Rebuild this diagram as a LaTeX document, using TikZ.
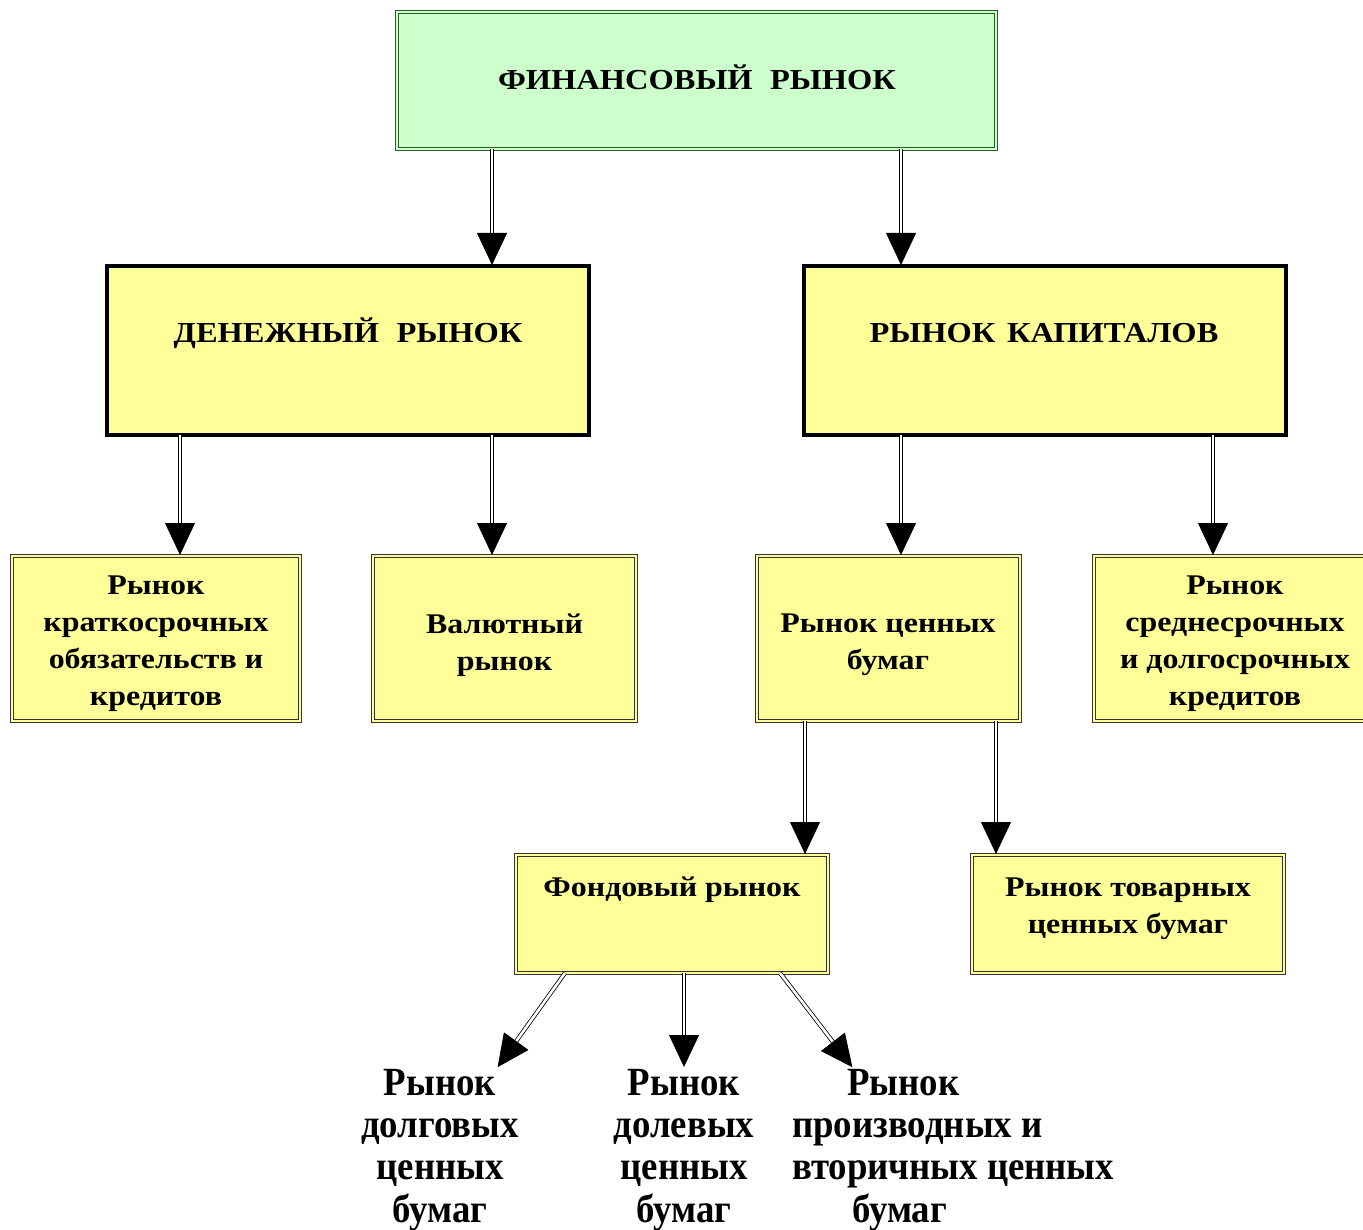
\documentclass[tikz,border=0pt]{standalone}
\usepackage{fontspec}
\setmainfont{Liberation Serif}
\newfontfamily\boxfont[FakeStretch=1.12]{Liberation Serif}
\newfontfamily\botfont[FakeStretch=0.92]{Liberation Serif}
\usetikzlibrary{arrows.meta}
\definecolor{yel}{HTML}{FFFF99}
\definecolor{grn}{HTML}{CCFFCC}
\definecolor{edge}{HTML}{333333}
\tikzset{
  x=1pt,y=-1pt,
  dbox/.style={rectangle, draw=edge, line width=0.9pt, double=yel, double distance=1.8pt, fill=yel, inner sep=0pt, outer sep=0pt},
  gbox/.style={rectangle, draw=edge!80!green, line width=0.9pt, double=grn, double distance=1.8pt, fill=grn, inner sep=0pt, outer sep=0pt},
  tbox/.style={rectangle, draw=black, line width=4pt, fill=yel, inner sep=0pt, outer sep=0pt},
  hdr/.style={font=\boxfont\bfseries\fontsize{29}{34}\selectfont, inner sep=0pt},
  txt/.style={font=\boxfont\bfseries\fontsize{28.5}{37}\selectfont, align=center, inner sep=0pt},
  bot/.style={font=\botfont\bfseries\fontsize{40}{42.3}\selectfont, align=center, inner sep=0pt},
  arr/.style={draw=black, line width=0.8pt, double=white, double distance=2.6pt,
    -{Triangle[length=32pt,width=30pt]}, shorten >=1pt},
}
\begin{document}
\begin{tikzpicture}
\useasboundingbox[fill=white] (0,0) rectangle (1363,1230);
% boxes
\node[gbox, minimum width=599pt, minimum height=137pt] (top) at (696.5,80.5) {};
\node[tbox, minimum width=482pt, minimum height=169pt] (den) at (348,350.5) {};
\node[tbox, minimum width=482pt, minimum height=169pt] (kap) at (1045,350.5) {};
\node[dbox, minimum width=288pt, minimum height=165pt] (kr) at (156,638.5) {};
\node[dbox, minimum width=263pt, minimum height=165pt] (val) at (504.5,638.5) {};
\node[dbox, minimum width=263pt, minimum height=165pt] (cen) at (888.5,638.5) {};
\node[dbox, minimum width=272pt, minimum height=165pt] (sred) at (1230,638.5) {};
\node[dbox, minimum width=312pt, minimum height=118pt] (fond) at (672,914) {};
\node[dbox, minimum width=312pt, minimum height=118pt] (tov) at (1128,914) {};
% texts
\node[hdr] (topT) at (697,77) {ФИНАНСОВЫЙ\hspace{0.6em}РЫНОК};
\node[hdr] (denT) at (348,333) {ДЕНЕЖНЫЙ\hspace{0.6em}РЫНОК};
\node[hdr] (kapT) at (1044,333) {РЫНОК\hspace{0.4em}КАПИТАЛОВ};
\node[txt] (krT) at (156,644) {Рынок\\краткосрочных\\обязательств и\\кредитов};
\node[txt] (valT) at (504.5,645) {Валютный\\рынок};
\node[txt] (cenT) at (888,645) {Рынок ценных\\бумаг};
\node[txt] (sredT) at (1235,644) {Рынок\\среднесрочных\\и долгосрочных\\кредитов};
\node[txt] (fondT) at (672,890) {Фондовый рынок};
\node[txt] (tovT) at (1128,909) {Рынок товарных\\ценных бумаг};
\node[bot] (b1) at (440,1150) {Рынок\\долговых\\ценных\\бумаг};
\node[bot] (b2) at (684,1150) {Рынок\\долевых\\ценных\\бумаг};
\node[bot, align=left, anchor=west] (b3) at (792,1150) {\hspace{55pt}Рынок\\производных и\\вторичных ценных\\\hspace{60pt}бумаг};
% end points of the lower arrows
\coordinate (e1) at (497,1068);
\coordinate (e2) at (684,1068);
\coordinate (e3) at (853,1068);
% connectors
\draw[arr] ([xshift=95pt]top.south west) -- ([xshift=385pt]den.north west);
\draw[arr] ([xshift=504pt]top.south west) -- ([xshift=97pt]kap.north west);
\draw[arr] ([xshift=73pt]den.south west) -- ([xshift=168pt]kr.north west);
\draw[arr] ([xshift=385pt]den.south west) -- ([xshift=119pt]val.north west);
\draw[arr] ([xshift=97pt]kap.south west) -- ([xshift=144pt]cen.north west);
\draw[arr] ([xshift=409pt]kap.south west) -- ([xshift=119pt]sred.north west);
\draw[arr] ([xshift=48pt]cen.south west) -- ([xshift=289pt]fond.north west);
\draw[arr] ([xshift=239pt]cen.south west) -- ([xshift=24pt]tov.north west);
\draw[arr] ([xshift=49pt]fond.south west) -- (e1);
\draw[arr] ([xshift=168pt]fond.south west) -- (e2);
\draw[arr] ([xshift=264pt]fond.south west) -- (e3);
\end{tikzpicture}
\end{document}
